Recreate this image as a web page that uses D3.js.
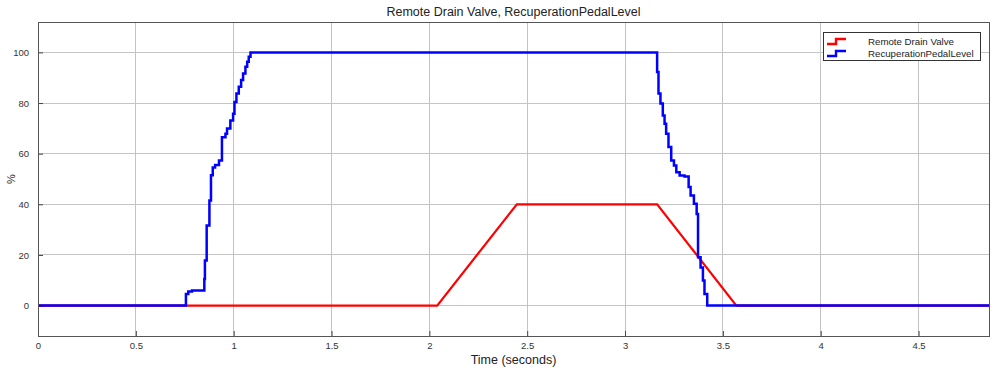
<!DOCTYPE html>
<html>
<head>
<meta charset="utf-8">
<script src="https://cdn.jsdelivr.net/npm/d3@7"></script>
<style>
  html, body { margin: 0; padding: 0; background: #fff; }
  svg { display: block; font-family: "Liberation Sans", Arial, sans-serif; }
</style>
</head>
<body>
<svg id="chart" width="992" height="372"></svg>
<script>
// ---- data ----
const chartTitle = "Remote Drain Valve, RecuperationPedalLevel";
const xLabel = "Time (seconds)";
const yLabel = "%";
const seriesNames = ["Remote Drain Valve", "RecuperationPedalLevel"];
const xTicks = [0, 0.5, 1, 1.5, 2, 2.5, 3, 3.5, 4, 4.5];
const yTicks = [0, 20, 40, 60, 80, 100];
const xDomain = [0, 4.86];
const yDomain = [-12, 112];

// Remote Drain Valve (linear segments)
const redTime  = [0, 2.04, 2.447, 3.164, 3.569, 4.86];
const redValue = [0, 0,    40,    40,    0,     0];

// RecuperationPedalLevel (stair steps: value holds from time until next time)
const blueTime = [0, 0.756, 0.768, 0.787, 0.850, 0.853, 0.862, 0.876, 0.884, 0.893, 0.905, 0.925,
  0.940, 0.958, 0.966, 0.983, 0.997, 1.004, 1.014, 1.026, 1.038, 1.048, 1.060, 1.069, 1.077, 1.086,
  3.164, 3.171, 3.181, 3.193, 3.202, 3.210, 3.222, 3.236, 3.250, 3.262, 3.279, 3.304, 3.325, 3.335,
  3.352, 3.366, 3.373, 3.386, 3.398, 3.406, 3.420, 4.86];
const blueValue = [0, 4.6, 5.6, 6, 10.5, 17.8, 31.6, 41.5, 51.5, 54.5, 55.5, 57.3,
  66.5, 67.9, 69.9, 73.1, 75.8, 80.4, 83.8, 86.4, 89.1, 91.7, 94.3, 96.3, 98.3, 100,
  92.3, 83.8, 79.8, 75.1, 71.8, 67.9, 62.6, 57.3, 55.3, 52.7, 51.4, 51, 46.8, 43.5,
  40.2, 36.2, 19.1, 15.1, 9.9, 4.6, 0, 0];

// ---- layout ----
const svg = d3.select("#chart");
const L = 38, R = 989, T = 22, B = 336;
const x = d3.scaleLinear().domain(xDomain).range([L, R]);
const y = d3.scaleLinear().domain(yDomain).range([B, T]);

// grid
const grid = svg.append("g");
grid.selectAll(".gx").data(xTicks).join("line")
  .attr("x1", d => x(d)).attr("x2", d => x(d))
  .attr("y1", T).attr("y2", B)
  .attr("stroke", "#c4c4c4").attr("stroke-width", 1).attr("shape-rendering", "crispEdges");
grid.selectAll(".gy").data(yTicks).join("line")
  .attr("x1", L).attr("x2", R)
  .attr("y1", d => y(d)).attr("y2", d => y(d))
  .attr("stroke", "#c4c4c4").attr("stroke-width", 1).attr("shape-rendering", "crispEdges");

// axes
const xAxis = d3.axisBottom(x).tickValues(xTicks).tickSizeInner(-5).tickSizeOuter(0)
  .tickPadding(6).tickFormat(d3.format("~g"));
const yAxis = d3.axisLeft(y).tickValues(yTicks).tickSizeInner(-5).tickSizeOuter(0)
  .tickPadding(9).tickFormat(d3.format("~g"));
const gx = svg.append("g").attr("transform", `translate(0,${B})`).call(xAxis);
const gy = svg.append("g").attr("transform", `translate(${L},0)`).call(yAxis);
[gx, gy].forEach(g => {
  g.select(".domain").remove();
  g.selectAll(".tick line").attr("stroke", "#444");
  g.selectAll(".tick text").attr("fill", "#333").style("font-size", "9.5px")
    .style("font-family", "'Liberation Sans Narrow', 'Liberation Sans', Arial, sans-serif");
});

// lines
const redData = redTime.map((t, i) => [t, redValue[i]]);
const blueData = blueTime.map((t, i) => [t, blueValue[i]]);
svg.append("path").datum(redData)
  .attr("fill", "none").attr("stroke", "#ff0000").attr("stroke-width", 2.2)
  .attr("d", d3.line().x(d => x(d[0])).y(d => y(d[1])));
svg.append("path").datum(blueData)
  .attr("fill", "none").attr("stroke", "#0000ff").attr("stroke-width", 2.5)
  .attr("d", d3.line().curve(d3.curveStepAfter).x(d => x(d[0])).y(d => y(d[1])));

// frame
svg.append("rect").attr("x", L).attr("y", T).attr("width", R - L).attr("height", B - T)
  .attr("fill", "none").attr("stroke", "#555").attr("stroke-width", 1).attr("shape-rendering", "crispEdges");

// title and labels
svg.append("text").attr("x", (L + R) / 2).attr("y", 16).attr("text-anchor", "middle")
  .style("font-size", "12.5px").attr("fill", "#222").text(chartTitle);
svg.append("text").attr("x", (L + R) / 2).attr("y", 364).attr("text-anchor", "middle")
  .style("font-size", "12.5px").attr("fill", "#222").text(xLabel);
svg.append("text").attr("transform", `translate(15,${(T + B) / 2}) rotate(-90)`)
  .attr("text-anchor", "middle").style("font-size", "11px").attr("fill", "#222").text(yLabel);

// legend
const lg = svg.append("g");
lg.append("rect").attr("x", 823).attr("y", 32).attr("width", 157).attr("height", 28)
  .attr("fill", "#fff").attr("stroke", "#333").attr("stroke-width", 1).attr("shape-rendering", "crispEdges");
const legColors = ["#ff0000", "#0000ff"];
seriesNames.forEach((name, i) => {
  const cy = 41 + i * 12;
  lg.append("path")
    .attr("d", `M827,${cy + 3} H836 V${cy - 2} H846`)
    .attr("fill", "none").attr("stroke", legColors[i]).attr("stroke-width", 2.4);
  lg.append("text").attr("x", 868).attr("y", cy + 3.5)
    .style("font-size", "9.7px").attr("fill", "#222").text(name);
});
</script>
</body>
</html>
